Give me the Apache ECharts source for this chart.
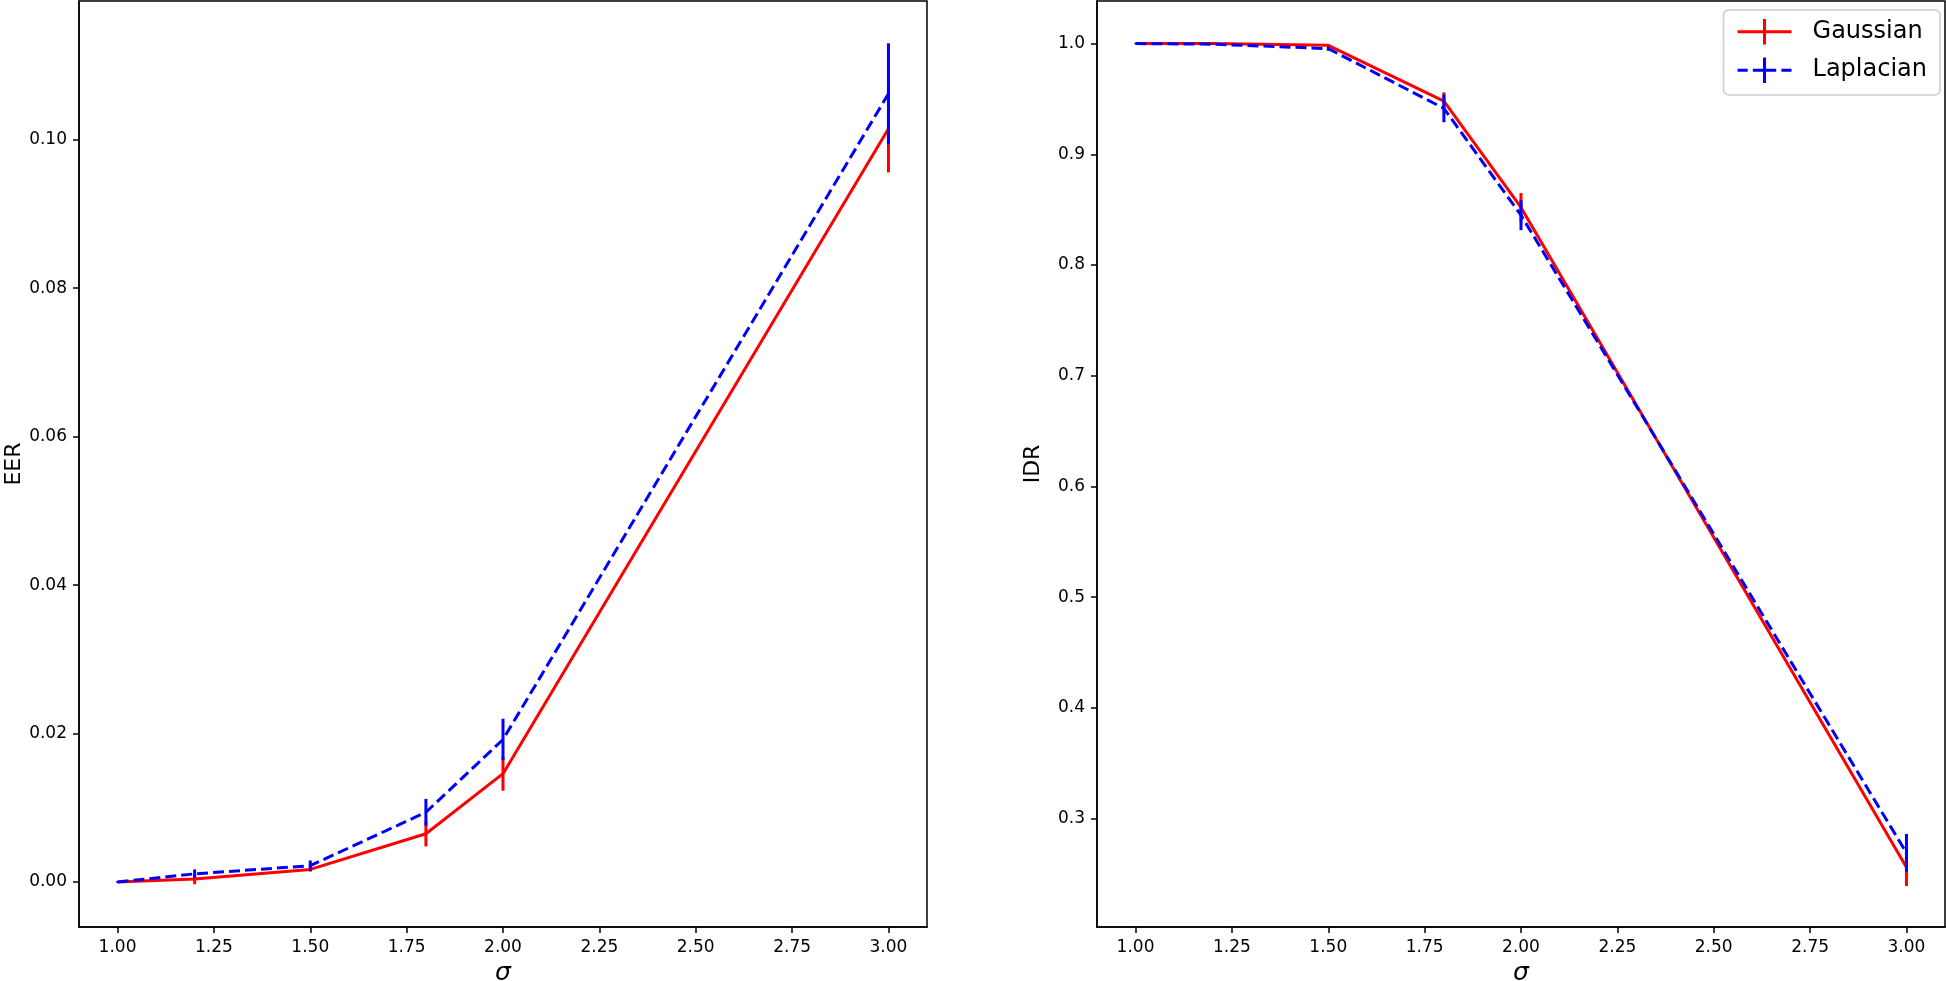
<!DOCTYPE html>
<html>
<head>
<meta charset="utf-8">
<script src="https://cdn.jsdelivr.net/npm/echarts@6/dist/echarts.min.js"></script>
<style>
html,body{margin:0;padding:0;background:#fff;}
#chart{width:1946px;height:981px;}
</style>
</head>
<body>
<div id="chart"></div>
<script>
// ---- data ----
const sigma = [1.0, 1.2, 1.5, 1.8, 2.0, 3.0];
const eerGauss    = [0.0, 0.0004, 0.0017, 0.0065, 0.0146, 0.1015];
const eerGaussErr = [0.0, 0.0007, 0.0003, 0.0017, 0.0023, 0.0059];
const eerLap      = [0.0, 0.0011, 0.0022, 0.0094, 0.0192, 0.1062];
const eerLapErr   = [0.0001, 0.0006, 0.0007, 0.0018, 0.0028, 0.0068];
const idrGauss    = [1.0, 1.0, 0.9985, 0.948, 0.852, 0.256];
const idrGaussErr = [0.0003, 0.0002, 0.001, 0.008, 0.013, 0.017];
const idrLap      = [1.0, 0.9995, 0.9955, 0.9415, 0.845, 0.269];
const idrLapErr   = [0.0003, 0.0005, 0.002, 0.0125, 0.0135, 0.017];
const xTicks   = [1.0, 1.25, 1.5, 1.75, 2.0, 2.25, 2.5, 2.75, 3.0];
const eerTicks = [0.0, 0.02, 0.04, 0.06, 0.08, 0.10];
const idrTicks = [0.3, 0.4, 0.5, 0.6, 0.7, 0.8, 0.9, 1.0];
const seriesNames = ['Gaussian', 'Laplacian'];

const RED = '#ff0000', BLUE = '#0000ff';
const FONT = 'DejaVu Sans';

function pts(xs, ys){ return xs.map((x,i)=>[x, ys[i]]); }
function bars(xs, ys, es){ return xs.map((x,i)=>[x, ys[i]-es[i], ys[i]+es[i]]); }

function errSeries(idx, data, color, z){
  return {
    type:'custom', xAxisIndex:idx, yAxisIndex:idx, z:z, silent:true,
    data:data,
    encode:{x:0, y:[1,2]},
    renderItem:function(params, api){
      const p1 = api.coord([api.value(0), api.value(1)]);
      const p2 = api.coord([api.value(0), api.value(2)]);
      return {type:'line', shape:{x1:p1[0], y1:p1[1], x2:p2[0], y2:p2[1]},
              style:{stroke:color, lineWidth:3}};
    }
  };
}
function lineSeries(idx, name, data, color, dashed, z){
  return {
    type:'line', name:name, xAxisIndex:idx, yAxisIndex:idx, z:z,
    data:data, symbol:'none', silent:true,
    itemStyle:{color:color},
    lineStyle:{color:color, width:3, type: dashed ? [11,5] : 'solid'}
  };
}
function xAxisCfg(idx){
  return {
    type:'value', gridIndex:idx, min:0.9, max:3.1,
    axisLine:{show:true, onZero:false, lineStyle:{color:'#000', width:1.5}},
    splitLine:{show:false},
    axisTick:{customValues:xTicks, length:6, lineStyle:{color:'#000', width:1.5}},
    axisLabel:{customValues:xTicks, formatter:v=>v.toFixed(2), fontSize:17, color:'#000', fontFamily:FONT, margin:12},
    name:'σ', nameLocation:'middle', nameGap:33,
    nameTextStyle:{fontStyle:'italic', fontSize:25, color:'#000', fontFamily:FONT}
  };
}
function yAxisCfg(idx, min, max, ticks, dec, name){
  return {
    type:'value', gridIndex:idx, min:min, max:max,
    axisLine:{show:true, onZero:false, lineStyle:{color:'#000', width:1.5}},
    splitLine:{show:false},
    axisTick:{customValues:ticks, length:6, lineStyle:{color:'#000', width:1.5}},
    axisLabel:{customValues:ticks, formatter:v=>v.toFixed(dec), fontSize:17, color:'#000', fontFamily:FONT, margin:12},
    name:name, nameLocation:'middle', nameGap:53, nameRotate:90,
    nameTextStyle:{fontSize:22, color:'#000', fontFamily:FONT}
  };
}

const chart = echarts.init(document.getElementById('chart'), null, {renderer:'canvas'});
chart.setOption({
  animation:false,
  backgroundColor:'#fff',
  grid:[
    {left:79, top:1, width:848, height:926, outerBoundsMode:'none', containLabel:false, show:true, borderColor:'#000', borderWidth:1.5, backgroundColor:'transparent'},
    {left:1097, top:1, width:848, height:926, outerBoundsMode:'none', containLabel:false, show:true, borderColor:'#000', borderWidth:1.5, backgroundColor:'transparent'}
  ],
  xAxis:[xAxisCfg(0), xAxisCfg(1)],
  yAxis:[
    yAxisCfg(0, -0.00606, 0.1187, eerTicks, 2, 'EER'),
    yAxisCfg(1, 0.202, 1.0385, idrTicks, 1, 'IDR')
  ],
  legend:{
    orient:'vertical', right:6, top:10,
    backgroundColor:'#fff', borderColor:'#cccccc', borderWidth:1.5, borderRadius:5,
    padding:[9, 13, 12, 14], itemGap:13, itemWidth:54, itemHeight:26,
    textStyle:{fontSize:24, color:'#000', fontFamily:FONT, padding:[0,0,0,16]},
    selectedMode:false,
    data:[
      {name:seriesNames[0], icon:'path://M0,11H53V14H0Z M25,0H28V25H25Z', itemStyle:{color:RED}},
      {name:seriesNames[1], icon:'path://M0,11H10V14H0Z M15,11H25V14H15Z M25,0H28V25H25Z M28,11H38V14H28Z M43,11H53V14H43Z', itemStyle:{color:BLUE}}
    ]
  },
  series:[
    errSeries(0, bars(sigma, eerGauss, eerGaussErr), RED, 2),
    lineSeries(0, seriesNames[0], pts(sigma, eerGauss), RED, false, 3),
    errSeries(0, bars(sigma, eerLap, eerLapErr), BLUE, 4),
    lineSeries(0, seriesNames[1], pts(sigma, eerLap), BLUE, true, 5),
    errSeries(1, bars(sigma, idrGauss, idrGaussErr), RED, 2),
    lineSeries(1, seriesNames[0], pts(sigma, idrGauss), RED, false, 3),
    errSeries(1, bars(sigma, idrLap, idrLapErr), BLUE, 4),
    lineSeries(1, seriesNames[1], pts(sigma, idrLap), BLUE, true, 5)
  ]
});
</script>
</body>
</html>
